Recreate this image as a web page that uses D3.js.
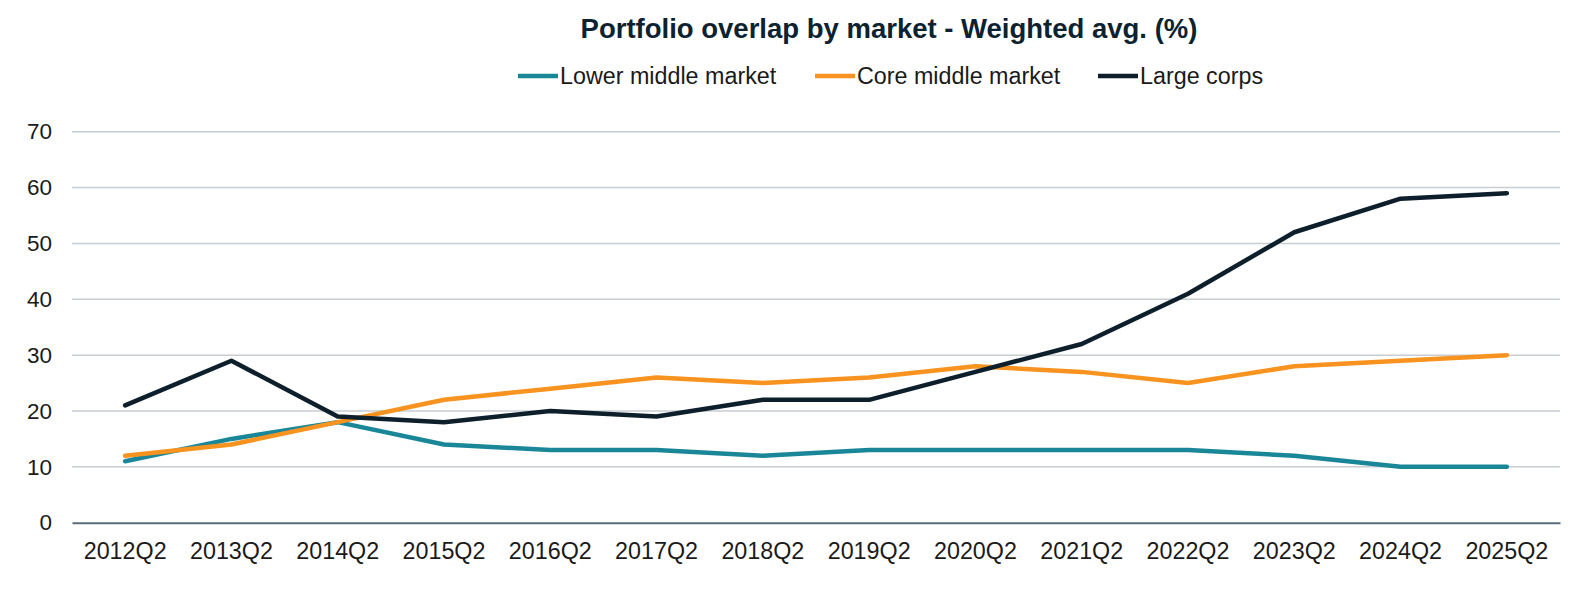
<!DOCTYPE html>
<html>
<head>
<meta charset="utf-8">
<script src="https://cdn.jsdelivr.net/npm/d3@7/dist/d3.min.js"></script>
<style>
  body { margin: 0; background: #fff; }
  text { font-family: "Liberation Sans", Arial, sans-serif; }
</style>
</head>
<body>
<script>
// data
var quarters = ["2012Q2","2013Q2","2014Q2","2015Q2","2016Q2","2017Q2","2018Q2",
                "2019Q2","2020Q2","2021Q2","2022Q2","2023Q2","2024Q2","2025Q2"];
var lowerMiddle = [11, 15, 18, 14, 13, 13, 12, 13, 13, 13, 13, 12, 10, 10];
var coreMiddle  = [12, 14, 18, 22, 24, 26, 25, 26, 28, 27, 25, 28, 29, 30];
var largeCorps  = [21, 29, 19, 18, 20, 19, 22, 22, 27, 32, 41, 52, 58, 59];
var yTicks = [0, 10, 20, 30, 40, 50, 60, 70];
var seriesNames = ["Lower middle market", "Core middle market", "Large corps"];

var series = [
  { name: seriesNames[0], values: lowerMiddle, color: "#1a8799" },
  { name: seriesNames[1], values: coreMiddle,  color: "#f7931e" },
  { name: seriesNames[2], values: largeCorps,  color: "#0e1f2c" }
];

var width = 1584, height = 606;
var plotLeft = 72, plotRight = 1560, plotTop = 131.7, plotBottom = 522.7;

var svg = d3.select("body").append("svg")
  .attr("width", width)
  .attr("height", height);

var x = d3.scaleBand().domain(quarters).range([plotLeft, plotRight]);
var y = d3.scaleLinear().domain([0, 70]).range([plotBottom, plotTop]);

// title
svg.append("text")
  .attr("x", 889)
  .attr("y", 38)
  .attr("text-anchor", "middle")
  .attr("font-size", 27.5)
  .attr("font-weight", "bold")
  .attr("fill", "#0c2231")
  .text("Portfolio overlap by market - Weighted avg. (%)");

// legend
var legendX = [518, 815, 1098];
var legend = svg.append("g").selectAll("g")
  .data(series)
  .enter().append("g")
    .attr("transform", function(d, i) { return "translate(" + legendX[i] + ",76)"; });
legend.append("line")
  .attr("x1", 0).attr("x2", 40)
  .attr("stroke", function(d) { return d.color; })
  .attr("stroke-width", 4.5);
legend.append("text")
  .attr("x", 42)
  .attr("y", 7.5)
  .attr("font-size", 23.3)
  .attr("fill", "#1a1a1a")
  .text(function(d) { return d.name; });

// gridlines
svg.append("g")
  .selectAll("line")
  .data(yTicks.filter(function(t) { return t > 0; }))
  .enter().append("line")
    .attr("x1", plotLeft).attr("x2", plotRight)
    .attr("y1", function(d) { return y(d); })
    .attr("y2", function(d) { return y(d); })
    .attr("stroke", "#c8cdd2")
    .attr("stroke-width", 1.5);

// y axis labels
var yAxis = svg.append("g")
  .attr("transform", "translate(" + plotLeft + ",0)")
  .call(d3.axisLeft(y).tickValues(yTicks).tickSize(0).tickPadding(20));
yAxis.select(".domain").remove();
yAxis.selectAll("text")
  .attr("font-family", "Liberation Sans, Arial, sans-serif")
  .attr("font-size", 22.5)
  .attr("fill", "#1a1a1a");

// x axis
var xAxis = svg.append("g")
  .attr("transform", "translate(0," + plotBottom + ")")
  .call(d3.axisBottom(x).tickSize(0).tickPadding(20));
xAxis.select(".domain")
  .attr("stroke", "#5b6b77")
  .attr("stroke-width", 2);
xAxis.selectAll("text")
  .attr("font-family", "Liberation Sans, Arial, sans-serif")
  .attr("font-size", 23.3)
  .attr("fill", "#1a1a1a");

// lines
var line = d3.line()
  .x(function(d, i) { return x(quarters[i]) + x.bandwidth() / 2; })
  .y(function(d) { return y(d); });

svg.append("g")
  .selectAll("path")
  .data(series)
  .enter().append("path")
    .attr("d", function(d) { return line(d.values); })
    .attr("fill", "none")
    .attr("stroke", function(d) { return d.color; })
    .attr("stroke-width", 4.5)
    .attr("stroke-linejoin", "round")
    .attr("stroke-linecap", "round");
</script>
</body>
</html>
